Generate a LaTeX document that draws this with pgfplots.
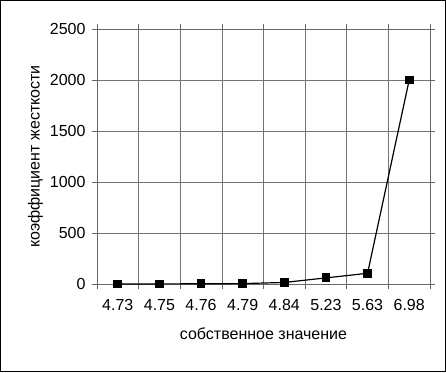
\documentclass[border=0pt]{standalone}
\usepackage{fontspec}
\setmainfont{Liberation Sans}
\usepackage{pgfplots}
\pgfplotsset{compat=1.18}
\begin{document}
\begin{tikzpicture}[x=1pt,y=1pt]
\draw[black, line width=1.4pt] (0.7,0.7) rectangle (445.3,371.3);
\begin{axis}[
  at={(97pt,88pt)}, anchor=south west,
  scale only axis, width=333pt, height=255pt,
  xmin=-0.5, xmax=7.5, ymin=0, ymax=2500,
  xtick={0,...,7},
  xticklabels={4.73,4.75,4.76,4.79,4.84,5.23,5.63,6.98},
  major x tick style={draw=none},
  minor xtick={-0.5,0.5,...,7.5},
  minor x tick style={black!60, line width=0.6pt},
  minor tick length=5pt,
  xminorgrids=true,
  minor grid style={black!55, line width=0.6pt},
  ytick={0,500,...,2500},
  ymajorgrids=true,
  major grid style={black!55, line width=0.6pt},
  tick align=outside,
  major tick length=5pt,
  y tick style={black!60, line width=0.6pt},
  axis line style={black!60, line width=0.8pt},
  /pgf/number format/assume math mode=true,
  /pgf/number format/1000 sep={},
  yticklabel style={font=\fontsize{16}{18}\selectfont, xshift=-3pt},
  xticklabel style={font=\fontsize{16}{18}\selectfont, yshift=-7pt},
  xlabel={собственное значение},
  ylabel={коэффициент жесткости},
  xlabel style={font=\fontsize{16}{18}\selectfont, yshift=-10pt},
  ylabel style={font=\fontsize{16}{18}\selectfont, yshift=0pt},
  clip=false,
]
\addplot[black, line width=1.2pt, mark=square*, mark size=3.8pt,
  mark options={solid, fill=black}] coordinates {
  (0,1) (1,1) (2,2) (3,4) (4,15) (5,60) (6,105) (7,2000)
};
\end{axis}
\end{tikzpicture}
\end{document}
